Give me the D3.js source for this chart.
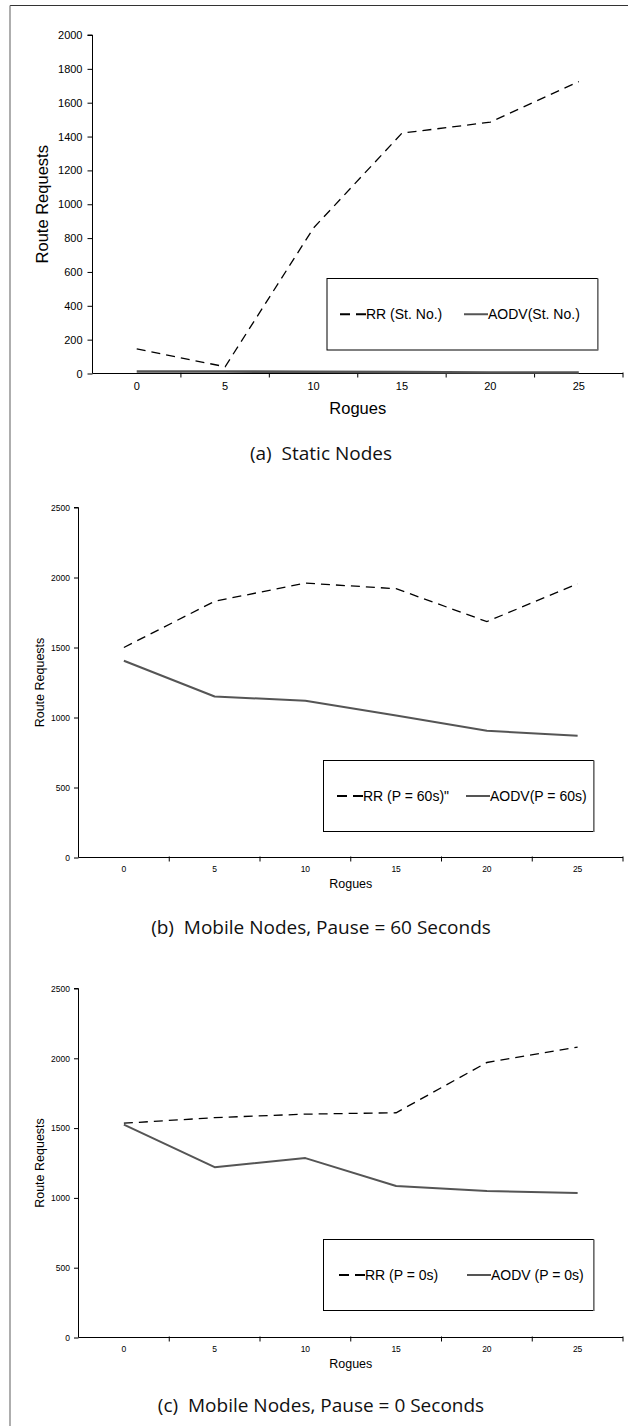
<!DOCTYPE html>
<html>
<head>
<meta charset="utf-8">
<script src="https://cdn.jsdelivr.net/npm/d3@7"></script>
<style>
  html, body { margin: 0; padding: 0; background: #fff; }
  svg { display: block; }
  text { font-family: "Liberation Sans", Arial, sans-serif; fill: #000; }
  .cap { font-family: "Open Sans", "Noto Sans", sans-serif; white-space: pre; fill: #111; }
</style>
</head>
<body>
<script>
// ---- data ----
const rogues = [0, 5, 10, 15, 20, 25];
const rrStatic = [145, 40, 860, 1420, 1485, 1725];
const aodvStatic = [12, 12, 10, 8, 6, 6];
const rrP60 = [1500, 1830, 1960, 1920, 1685, 1955];
const aodvP60 = [1405, 1150, 1120, 1015, 905, 870];
const rrP0 = [1535, 1575, 1600, 1610, 1970, 2080];
const aodvP0 = [1525, 1220, 1285, 1085, 1050, 1035];
const yTicksA = [0, 200, 400, 600, 800, 1000, 1200, 1400, 1600, 1800, 2000];
const yTicksBC = [0, 500, 1000, 1500, 2000, 2500];
const legendA = ["RR (St. No.)", "AODV(St. No.)"];
const legendB = ["RR (P = 60s)\"", "AODV(P = 60s)"];
const legendC = ["RR (P = 0s)", "AODV (P = 0s)"];
const captions = ["(a)  Static Nodes", "(b)  Mobile Nodes, Pause = 60 Seconds", "(c)  Mobile Nodes, Pause = 0 Seconds"];
const xTitle = "Rogues";
const yTitle = "Route Requests";

const W = 629, H = 1426;
const svg = d3.select("body").append("svg").attr("width", W).attr("height", H);

// page frame (top + left)
svg.append("line").attr("x1", 10).attr("x2", 628).attr("y1", 5.5).attr("y2", 5.5).attr("stroke", "#333").attr("stroke-width", 1.2);
svg.append("line").attr("x1", 10).attr("x2", 10).attr("y1", 5.5).attr("y2", H).attr("stroke", "#777").attr("stroke-width", 1.2);

function panel(cfg) {
  const g = svg.append("g");
  const x = d3.scaleBand().domain(rogues).range([cfg.left, cfg.right]).padding(0);
  const y = d3.scaleLinear().domain([0, cfg.ymax]).range([cfg.bottom, cfg.top]);

  // y axis
  const yAxis = d3.axisLeft(y).tickValues(cfg.yTicks).tickSize(cfg.yTick).tickPadding(cfg.yPad).tickFormat(d3.format("d"));
  const ya = g.append("g").attr("transform", `translate(${cfg.left},0)`).call(yAxis);
  ya.select(".domain").attr("d", `M${-cfg.yTick},${cfg.top}H0V${cfg.bottom}`).attr("stroke", "#000");
  ya.selectAll("text").attr("font-size", cfg.tickFont).attr("font-family", "Liberation Sans, Arial, sans-serif");
  ya.selectAll("line").attr("stroke", "#000");

  // x axis (labels at band centers, ticks at band boundaries)
  const xAxis = d3.axisBottom(x).tickSize(0).tickPadding(cfg.xPad);
  const xa = g.append("g").attr("transform", `translate(0,${cfg.bottom})`).call(xAxis);
  xa.select(".domain").attr("d", `M${cfg.left},0H${cfg.right}`).attr("stroke", "#000");
  xa.selectAll("text").attr("font-size", cfg.tickFont).attr("font-family", "Liberation Sans, Arial, sans-serif");
  const edges = rogues.map(r => x(r) + x.bandwidth());
  xa.selectAll("line.edge").data(edges).enter().append("line").attr("class", "edge")
    .attr("x1", d => d).attr("x2", d => d).attr("y1", -1).attr("y2", 4).attr("stroke", "#000");

  // titles
  g.append("text").attr("x", (cfg.left + cfg.right) / 2).attr("y", cfg.xTitleY)
    .attr("text-anchor", "middle").attr("dominant-baseline", "central")
    .attr("font-size", cfg.titleFont).text(xTitle);
  g.append("text").attr("transform", `translate(${cfg.yTitleX},${(cfg.top + cfg.bottom) / 2}) rotate(-90)`)
    .attr("text-anchor", "middle").attr("dominant-baseline", "central")
    .attr("font-size", cfg.titleFont).text(yTitle);

  // lines
  const line = d3.line().x((d, i) => x(rogues[i]) + x.bandwidth() / 2).y(d => y(d));
  g.append("path").datum(cfg.aodv).attr("d", line).attr("fill", "none")
    .attr("stroke", "#555").attr("stroke-width", cfg.solidW).attr("stroke-linejoin", "round");
  g.append("path").datum(cfg.rr).attr("d", line).attr("fill", "none")
    .attr("stroke", "#000").attr("stroke-width", 1.3).attr("stroke-dasharray", "9,6");

  // legend
  const L = cfg.legend;
  g.append("rect").attr("x", L.x0).attr("y", L.y0).attr("width", L.x1 - L.x0).attr("height", L.y1 - L.y0)
    .attr("fill", "#fff").attr("stroke", "#000").attr("stroke-width", 1);
  g.append("line").attr("x1", L.x1 + 0.5).attr("x2", L.x1 + 0.5).attr("y1", L.y0).attr("y2", L.y1 + 0.5)
    .attr("stroke", "#888").attr("stroke-width", 1.6);
  const ly = (L.y0 + L.y1) / 2;
  g.append("line").attr("x1", L.d0).attr("x2", L.d0 + 26).attr("y1", ly).attr("y2", ly)
    .attr("stroke", "#000").attr("stroke-width", 2).attr("stroke-dasharray", "10,6");
  g.append("text").attr("x", L.d0 + 26).attr("y", ly).attr("dominant-baseline", "central")
    .attr("font-size", 14).text(cfg.labels[0]);
  g.append("line").attr("x1", L.s0).attr("x2", L.s0 + 24).attr("y1", ly).attr("y2", ly)
    .attr("stroke", "#555").attr("stroke-width", 2);
  g.append("text").attr("x", L.s0 + 24).attr("y", ly).attr("dominant-baseline", "central")
    .attr("font-size", 14).text(cfg.labels[1]);

  // caption
  svg.append("text").attr("class", "cap").attr("x", 321).attr("y", cfg.capY)
    .attr("text-anchor", "middle").attr("dominant-baseline", "central")
    .attr("font-size", 19).text(cfg.caption);
}

panel({
  left: 92.5, right: 623, top: 35, bottom: 373.5, ymax: 2000, yTicks: yTicksA,
  yTick: 5, yPad: 5, xPad: 9, tickFont: 11, titleFont: 16.5, xTitleY: 408, yTitleX: 42,
  rr: rrStatic, aodv: aodvStatic, solidW: 2.6, labels: legendA,
  legend: { x0: 327, x1: 597.5, y0: 278.5, y1: 350, d0: 340, s0: 464 },
  caption: captions[0], capY: 453
});
panel({
  left: 78.5, right: 623, top: 507.5, bottom: 857.5, ymax: 2500, yTicks: yTicksBC,
  yTick: 4.5, yPad: 4, xPad: 8, tickFont: 8.5, titleFont: 12.5, xTitleY: 884, yTitleX: 40,
  rr: rrP60, aodv: aodvP60, solidW: 2, labels: legendB,
  legend: { x0: 323.5, x1: 593.5, y0: 760.5, y1: 831.5, d0: 337, s0: 466 },
  caption: captions[1], capY: 926.5
});
panel({
  left: 78.5, right: 623, top: 988.5, bottom: 1337.5, ymax: 2500, yTicks: yTicksBC,
  yTick: 4.5, yPad: 4, xPad: 8, tickFont: 8.5, titleFont: 12.5, xTitleY: 1364, yTitleX: 40,
  rr: rrP0, aodv: aodvP0, solidW: 2, labels: legendC,
  legend: { x0: 323.5, x1: 593.5, y0: 1239.5, y1: 1310.5, d0: 339, s0: 467 },
  caption: captions[2], capY: 1405
});
</script>
</body>
</html>
